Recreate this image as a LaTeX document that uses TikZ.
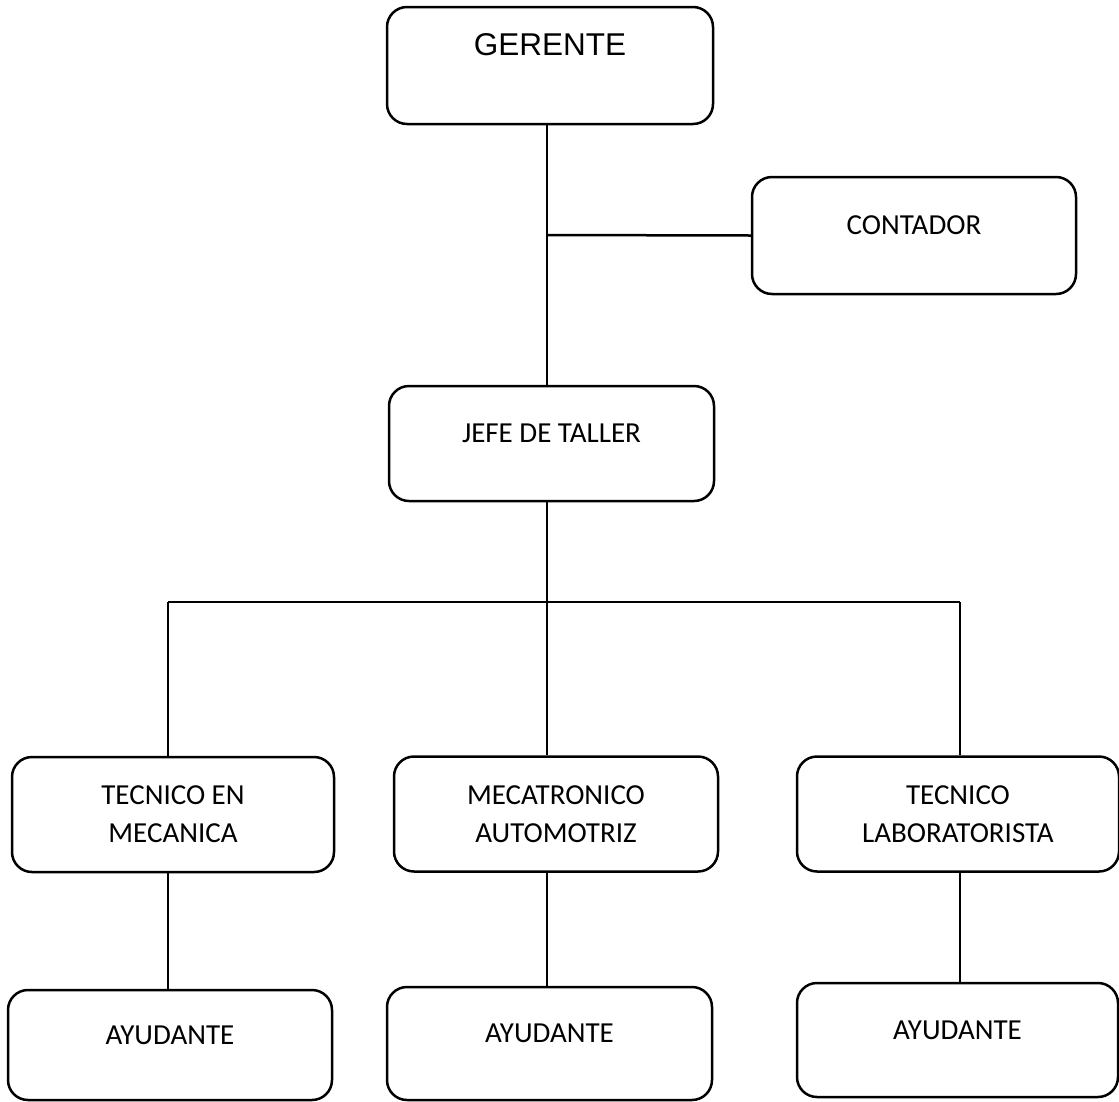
\documentclass[tikz,border=0pt]{standalone}
\usepackage{fontspec}
\setmainfont{Carlito}
\newfontfamily\arialfont{Liberation Sans}
\usepackage{tikz}
\usetikzlibrary{positioning}

\begin{document}
\begin{tikzpicture}[x=1pt,y=-1pt]

			\tikzset{BoxStyle/.style = {shape          = rectangle,
					draw, line width = 2.5pt,
					rounded corners = 20pt,
					align          = center,
					font           = \fontsize{29}{38}\selectfont,
					minimum width  = 324pt,
					minimum height = 115pt}}

			\tikzset{OneLine/.style = {text height = 18.7pt, text depth = 20pt}}

			\tikzset{EdgeStyle/.style   = {line width = 2.5pt}}

			\useasboundingbox (0,0) rectangle (1119,1101);

			\node[BoxStyle,minimum width=326pt,minimum height=117pt,
				font=\arialfont\fontsize{31.5}{36}\selectfont,
				text height=22.5pt,text depth=42pt](gerente) at (550,65.5){GERENTE};
			\node[BoxStyle,OneLine,minimum height=117pt](contador) at (914,235.5){CONTADOR};
			\node[BoxStyle,OneLine,minimum width=325pt](jefe) at (551.5,443.5){JEFE DE TALLER};

			\node[BoxStyle,minimum width=322pt](mecanica) at (173,814.5){TECNICO EN\\MECANICA};
			\node[BoxStyle](automotriz) at (556,814){MECATRONICO\\AUTOMOTRIZ};
			\node[BoxStyle,minimum width=322pt](laboratorista) at (958,814){TECNICO\\LABORATORISTA};

			\node[BoxStyle,OneLine,minimum height=110pt](ayudanteA) at (170,1045){AYUDANTE};
			\node[BoxStyle,OneLine,minimum width=325pt,minimum height=113pt](ayudanteB) at (549.5,1043.5){AYUDANTE};
			\node[BoxStyle,OneLine,minimum width=321pt,minimum height=114pt](ayudanteC) at (957.5,1040){AYUDANTE};

			\coordinate (trunk) at (547,235);
			\coordinate (bar) at (547,602);
			\coordinate (barL) at (168,602);
			\coordinate (barR) at (960,602);

			\draw[EdgeStyle](gerente.south -| trunk) -- (jefe.north -| trunk);
			\draw[EdgeStyle](trunk) -- (contador.west);
			\draw[EdgeStyle](jefe.south -| bar) -- (bar);
			\draw[EdgeStyle](barL) -- (barR);
			\draw[EdgeStyle](barL) -- (barL |- mecanica.north);
			\draw[EdgeStyle](bar) -- (bar |- automotriz.north);
			\draw[EdgeStyle](barR) -- (barR |- laboratorista.north);
			\draw[EdgeStyle](mecanica.south -| barL) -- (ayudanteA.north -| barL);
			\draw[EdgeStyle](automotriz.south -| bar) -- (ayudanteB.north -| bar);
			\draw[EdgeStyle](laboratorista.south -| barR) -- (ayudanteC.north -| barR);
\end{tikzpicture}
\end{document}
